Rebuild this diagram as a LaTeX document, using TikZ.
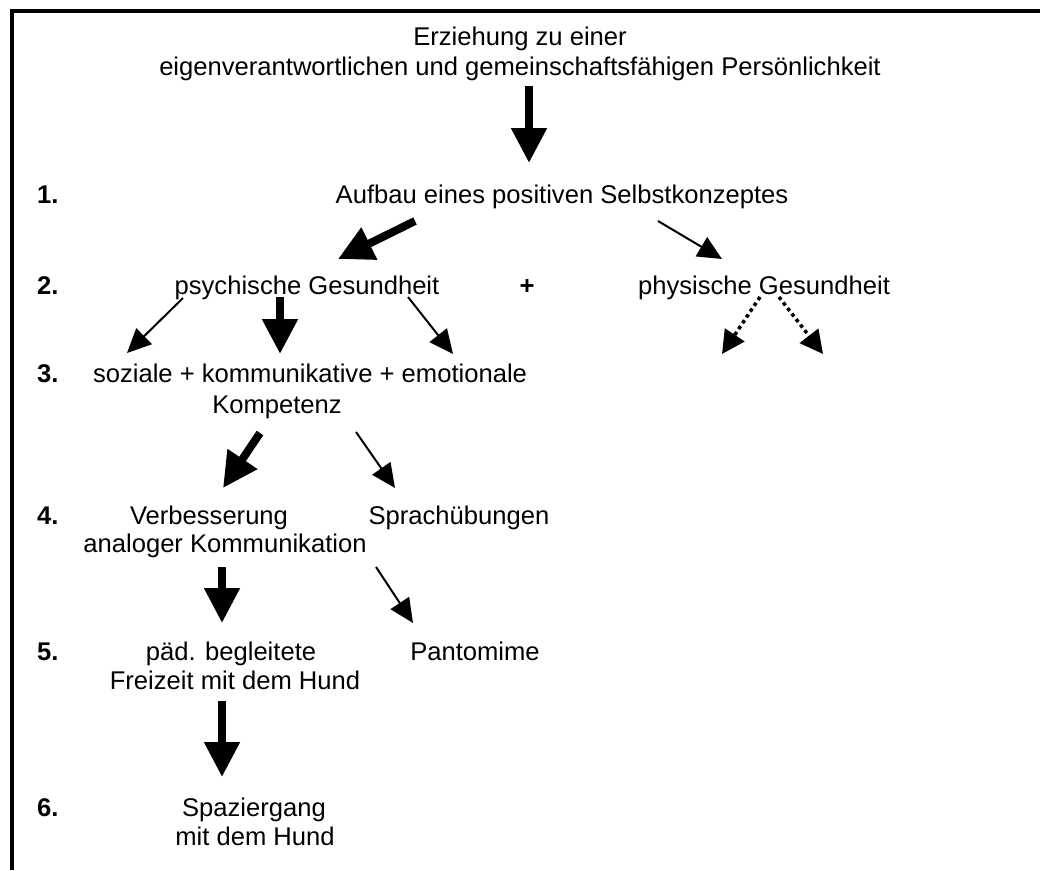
\documentclass[tikz,border=0pt]{standalone}
\usepackage{fontspec}
\setmainfont{Liberation Sans}
\usetikzlibrary{arrows.meta}
\begin{document}
\begin{tikzpicture}[x=1pt,y=-1pt,
  txt/.style={inner sep=0pt,anchor=base,font=\fontsize{25.6}{29}\selectfont},
  num/.style={inner sep=0pt,anchor=base west,font=\fontsize{25.6}{29}\selectfont\bfseries},
  thick arrow/.style={line width=8pt,-{Triangle[length=35pt,width=34pt]}},
  thin arrow/.style={line width=2pt,-{Triangle[length=24pt,width=22pt]}},
  dot arrow/.style={line width=3.5pt,dash pattern=on 3.5pt off 3.5pt,-{Triangle[length=23pt,width=23pt]}}]
\useasboundingbox (0,0) rectangle (1040,870);
% frame
\draw[line width=4.5pt] (12,870) -- (12,11) -- (1040,11);
% texts
\node[txt] (t1) at (520,45) {Erziehung zu einer};
\node[txt] (t2) at (520,75) {eigenverantwortlichen und gemeinschaftsfähigen Persönlichkeit};
\node[num] (n1) at (37,203) {1.};
\node[txt] (aufbau) at (562,203) {Aufbau eines positiven Selbstkonzeptes};
\node[num] (n2) at (37,294) {2.};
\node[txt] (psych) at (307,294) {psychische Gesundheit};
\node[txt,font=\fontsize{25.6}{29}\selectfont\bfseries] (plus) at (527,294) {+};
\node[txt] (phys) at (764,294) {physische Gesundheit};
\node[num] (n3) at (37,382) {3.};
\node[txt] (soz) at (310,382) {soziale + kommunikative + emotionale};
\node[txt] (komp) at (277,413) {Kompetenz};
\node[num] (n4) at (37,524) {4.};
\node[txt] (verb) at (209,524) {Verbesserung};
\node[txt] (anal) at (225,552) {analoger Kommunikation};
\node[txt] (sprach) at (459,524) {Sprachübungen};
\node[num] (n5) at (37,660) {5.};
\node[txt] (paed) at (231,660) {päd. begleitete};
\node[txt] (frei) at (235,689) {Freizeit mit dem Hund};
\node[txt] (panto) at (475,660) {Pantomime};
\node[num] (n6) at (37,816) {6.};
\node[txt] (spaz) at (254,816) {Spaziergang};
\node[txt] (mit) at (255,845) {mit dem Hund};
% connector end points
\coordinate (a0s) at (529,86);  \coordinate (a0e) at (529,163);
\coordinate (a1s) at (415,221); \coordinate (a1e) at (338,259);
\coordinate (a2s) at (658,221); \coordinate (a2e) at (722,259);
\coordinate (a3s) at (183,298); \coordinate (a3e) at (127,353);
\coordinate (a4s) at (280,297); \coordinate (a4e) at (280,354);
\coordinate (a5s) at (408,297); \coordinate (a5e) at (453,354);
\coordinate (a6s) at (760,297); \coordinate (a6e) at (722,354);
\coordinate (a7s) at (779,297); \coordinate (a7e) at (823,354);
\coordinate (a8s) at (260,433); \coordinate (a8e) at (223,488);
\coordinate (a9s) at (356,432); \coordinate (a9e) at (395,488);
\coordinate (a10s) at (222,567); \coordinate (a10e) at (222,623);
\coordinate (a11s) at (376,567); \coordinate (a11e) at (413,623);
\coordinate (a12s) at (222,701); \coordinate (a12e) at (222,777);
% connectors
\draw[thick arrow] (a0s) -- (a0e);
\draw[thick arrow] (a1s) -- (a1e);
\draw[thin arrow] (a2s) -- (a2e);
\draw[thin arrow] (a3s) -- (a3e);
\draw[thick arrow] (a4s) -- (a4e);
\draw[thin arrow] (a5s) -- (a5e);
\draw[dot arrow] (a6s) -- (a6e);
\draw[dot arrow] (a7s) -- (a7e);
\draw[thick arrow] (a8s) -- (a8e);
\draw[thin arrow] (a9s) -- (a9e);
\draw[thick arrow] (a10s) -- (a10e);
\draw[thin arrow] (a11s) -- (a11e);
\draw[thick arrow] (a12s) -- (a12e);
\end{tikzpicture}
\end{document}
